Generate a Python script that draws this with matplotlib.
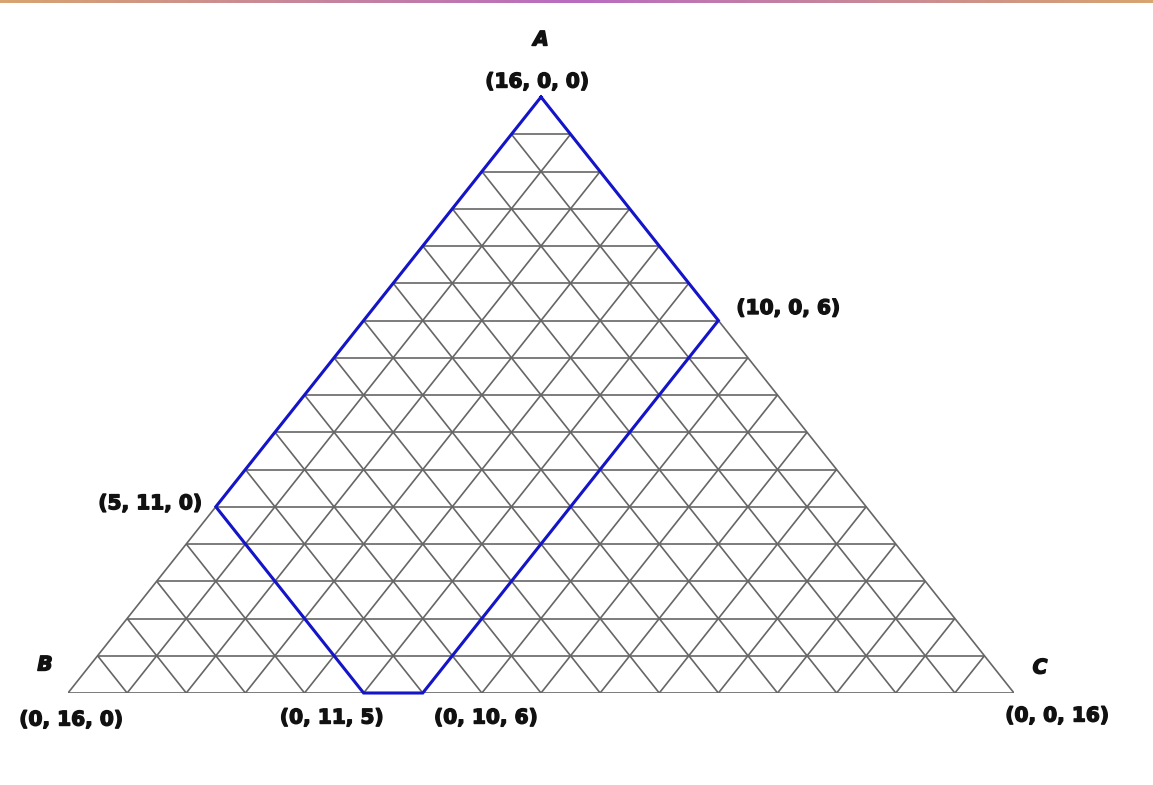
import matplotlib
matplotlib.use("Agg")
import matplotlib.pyplot as plt
import matplotlib.patheffects as pe
import numpy as np
from matplotlib.colors import LinearSegmentedColormap

N = 16

# region boundary, as (A, B, C) compositions
region = [(16, 0, 0), (10, 0, 6), (0, 10, 6), (0, 11, 5), (5, 11, 0), (16, 0, 0)]

corner_names = ["A", "B", "C"]
corner_points = [(16, 0, 0), (0, 16, 0), (0, 0, 16)]
edge_points = [(10, 0, 6), (5, 11, 0), (0, 11, 5), (0, 10, 6)]


def tern(p):
    a, b, c = p
    return (c + a / 2.0) / N, a / N


def fmt(p):
    return "({}, {}, {})".format(*p)


W, H = 1153, 785
fig = plt.figure(figsize=(W / 100, H / 100), dpi=100)
fig.patch.set_facecolor("white")

# gradient strip along the top edge
bar = fig.add_axes([0, 1 - 3 / H, 1, 3 / H])
cmap = LinearSegmentedColormap.from_list("strip", ["#d8a470", "#b96bc1", "#d8a470"])
bar.imshow(np.linspace(0, 1, 256)[None, :], aspect="auto", cmap=cmap)
bar.axis("off")

ax = fig.add_axes([68 / W, 1 - 693 / H, (1014 - 68) / W, (693 - 97) / H])
ax.set_xlim(0, 1)
ax.set_ylim(0, 1)
ax.axis("off")

grid_kw = dict(color="#666666", lw=1.2, solid_capstyle="butt", zorder=1)
for i in range(0, N + 1):
    # constant A, B and C lines
    for p, q in [((i, N - i, 0), (i, 0, N - i)),
                 ((N - i, i, 0), (0, i, N - i)),
                 ((N - i, 0, i), (0, N - i, i))]:
        if p == q:
            continue
        x0, y0 = tern(p)
        x1, y1 = tern(q)
        ax.plot([x0, x1], [y0, y1], **grid_kw)

rx, ry = zip(*[tern(p) for p in region])
ax.plot(rx, ry, color="#1414c8", lw=2.2, zorder=3, solid_joinstyle="miter", clip_on=False)

heavy = [pe.withStroke(linewidth=1.0, foreground="#111111")]
font = dict(fontsize=14.5, fontweight="bold", color="#111111", clip_on=False,
            path_effects=heavy)

# vertex letters
ax.annotate("A", tern(corner_points[0]), xytext=(0, 57), textcoords="offset pixels",
            ha="center", va="center", style="italic", **font)
ax.annotate("B", tern(corner_points[1]), xytext=(-23, 28), textcoords="offset pixels",
            ha="center", va="center", style="italic", **font)
ax.annotate("C", tern(corner_points[2]), xytext=(26, 25), textcoords="offset pixels",
            ha="center", va="center", style="italic", **font)

# vertex coordinates
ax.annotate(fmt(corner_points[0]), tern(corner_points[0]), xytext=(-4, 15),
            textcoords="offset pixels", ha="center", va="center", **font)
ax.annotate(fmt(corner_points[1]), tern(corner_points[1]), xytext=(3, -27),
            textcoords="offset pixels", ha="center", va="center", **font)
ax.annotate(fmt(corner_points[2]), tern(corner_points[2]), xytext=(43, -23),
            textcoords="offset pixels", ha="center", va="center", **font)

# edge point coordinates
ax.annotate(fmt(edge_points[0]), tern(edge_points[0]), xytext=(18, 12),
            textcoords="offset pixels", ha="left", va="center", **font)
ax.annotate(fmt(edge_points[1]), tern(edge_points[1]), xytext=(-14, 3),
            textcoords="offset pixels", ha="right", va="center", **font)
ax.annotate(fmt(edge_points[2]), tern(edge_points[2]), xytext=(-32, -25),
            textcoords="offset pixels", ha="center", va="center", **font)
ax.annotate(fmt(edge_points[3]), tern(edge_points[3]), xytext=(63, -25),
            textcoords="offset pixels", ha="center", va="center", **font)

fig.savefig("out.png", dpi=100)
